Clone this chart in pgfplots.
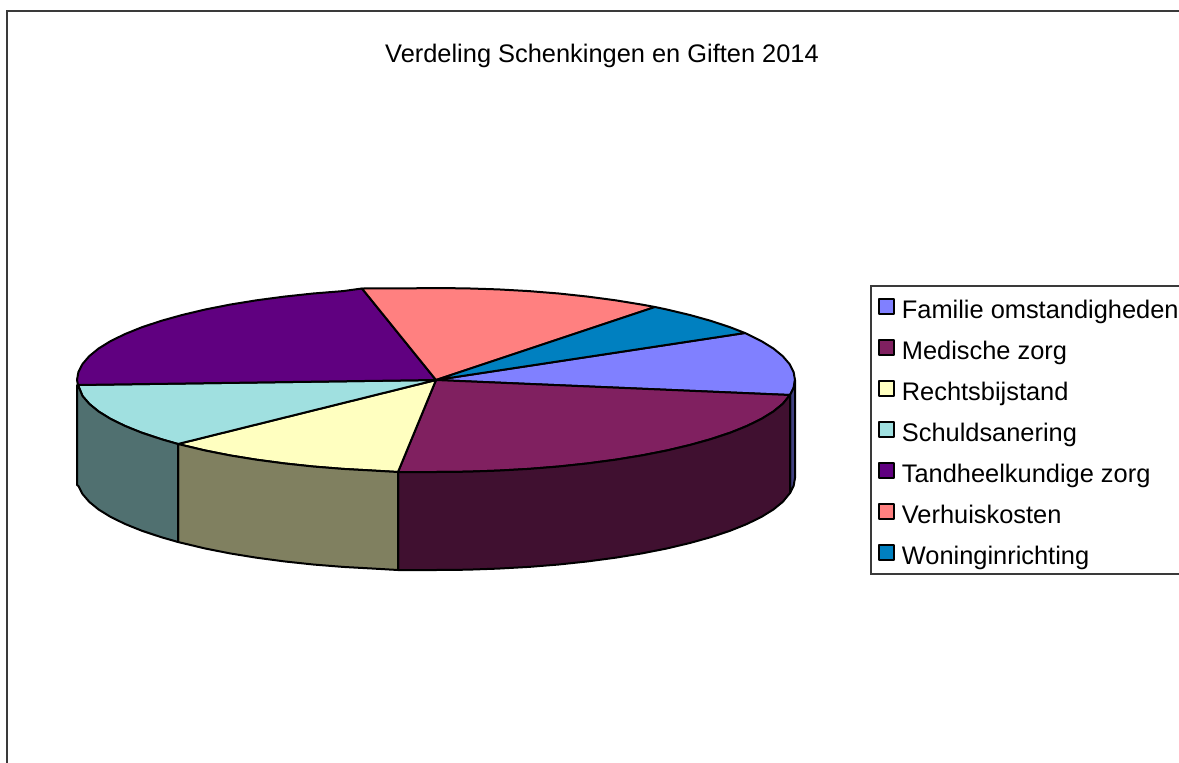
\documentclass[border=0pt]{standalone}
\usepackage{fontspec}
\setmainfont{Liberation Sans}
\usepackage{pgfplots}
\pgfplotsset{compat=1.18}
\definecolor{cFam}{HTML}{8080FF}
\definecolor{cMed}{HTML}{802060}
\definecolor{cRec}{HTML}{FFFFC0}
\definecolor{cSch}{HTML}{A0E0E0}
\definecolor{cTan}{HTML}{600080}
\definecolor{cVer}{HTML}{FF8080}
\definecolor{cWon}{HTML}{0080C0}
\definecolor{wFam}{HTML}{404080}
\definecolor{wMed}{HTML}{401030}
\definecolor{wRec}{HTML}{808060}
\definecolor{wSch}{HTML}{507070}
\definecolor{frame}{HTML}{3A3A3A}
\begin{document}
\begin{tikzpicture}
\path[use as bounding box] (0,0) rectangle (1179pt,763pt);
\begin{axis}[
  at={(0,0)}, anchor=south west,
  width=1179pt, height=763pt, scale only axis,
  xmin=0, xmax=1179, ymin=0, ymax=763, y dir=reverse,
  hide axis, clip=true,
  legend cell align=left,
  legend image code/.code={\draw[#1,line width=2pt] (0pt,-7.5pt) rectangle (15pt,7.5pt);\path (18pt,0pt);},
  legend style={
    at={(870/1179,1-285/763)}, anchor=north west,
    draw=frame, line width=1.8pt, fill=white,
    font=\fontsize{25.4}{30}\selectfont,
    inner xsep=7pt, inner ysep=5pt,
    row sep=9pt,
    nodes={text height=28pt, text depth=4pt, inner ysep=0pt, inner xsep=4pt},
  },
]
% chart area frame
\addplot[forget plot, frame, line width=2pt] coordinates {(7,763) (7,11) (1179,11)};

% top faces, in legend order
\addplot[fill=cFam, draw=black, line width=2pt, line join=round] coordinates {(436,380) (745,333) (761.4,341.1) (773.4,348.5) (782.8,356.2) (789.5,364) (793.6,372) (795,380) (793.6,388) (790,395)} -- cycle;
\addlegendentry{Familie omstandigheden}
\addplot[fill=cMed, draw=black, line width=2pt, line join=round] coordinates {(436,380) (790,395) (782.8,403.8) (773.4,411.5) (761.4,418.9) (746.9,426) (730,432.8) (711,439.1) (689.9,445) (666.8,450.5) (641.9,455.4) (615.5,459.7) (587.7,463.4) (558.8,466.5) (528.9,468.9) (498.3,470.6) (467.3,471.7) (436,472) (398,472)} -- cycle;
\addlegendentry{Medische zorg}
\addplot[fill=cRec, draw=black, line width=2pt, line join=round] coordinates {(436,380) (398,472) (373.7,470.6) (343,468.9) (313.2,466.5) (284.3,463.4) (256.5,459.7) (230,455.4) (205.2,450.5) (178,444)} -- cycle;
\addlegendentry{Rechtsbijstand}
\addplot[fill=cSch, draw=black, line width=2pt, line join=round] coordinates {(436,380) (178,444) (161,439.1) (142,432.8) (125.1,426) (110.6,418.9) (98.6,411.5) (89.2,403.8) (82.5,396) (78,385)} -- cycle;
\addlegendentry{Schuldsanering}
\addplot[fill=cTan, draw=black, line width=2pt, line join=round] coordinates {(436,380) (78,385) (77,380) (78.4,372) (82.5,364) (89.2,356.2) (98.6,348.5) (110.6,341.1) (125.1,334) (142,327.2) (161,320.9) (182.1,315) (205.2,309.5) (230,304.6) (256.5,300.3) (284.3,296.6) (313.2,293.5) (343,291.1) (362,288.5)} -- cycle;
\addlegendentry{Tandheelkundige zorg}
\addplot[fill=cVer, draw=black, line width=2pt, line join=round] coordinates {(436,380) (362,288.5) (404.7,288.4) (436,288) (467.3,288.4) (498.3,289.4) (528.9,291.1) (558.8,293.5) (587.7,296.6) (615.5,300.3) (641.9,304.6) (655,307)} -- cycle;
\addlegendentry{Verhuiskosten}
\addplot[fill=cWon, draw=black, line width=2pt, line join=round] coordinates {(436,380) (655,307) (666.8,309.5) (689.9,315) (711,320.9) (730,327.2) (745,333)} -- cycle;
\addlegendentry{Woninginrichting}

% side walls
\addplot[forget plot, fill=wFam, draw=black, line width=2pt, line join=round] coordinates {(795,380) (795,478) (793.6,486) (790,493) (790,395) (793.6,388)} -- cycle;
\addplot[forget plot, fill=wMed, draw=black, line width=2pt, line join=round] coordinates {(790,395) (782.8,403.8) (773.4,411.5) (761.4,418.9) (746.9,426) (730,432.8) (711,439.1) (689.9,445) (666.8,450.5) (641.9,455.4) (615.5,459.7) (587.7,463.4) (558.8,466.5) (528.9,468.9) (498.3,470.6) (467.3,471.7) (436,472) (398,472) (398,570) (436,570) (467.3,569.7) (498.3,568.6) (528.9,566.9) (558.8,564.5) (587.7,561.4) (615.5,557.7) (641.9,553.4) (666.8,548.5) (689.9,543) (711,537.1) (730,530.8) (746.9,524) (761.4,516.9) (773.4,509.5) (782.8,501.8) (790,493)} -- cycle;
\addplot[forget plot, fill=wRec, draw=black, line width=2pt, line join=round] coordinates {(398,472) (373.7,470.6) (343,468.9) (313.2,466.5) (284.3,463.4) (256.5,459.7) (230,455.4) (205.2,450.5) (178,444) (178,542) (205.2,548.5) (230,553.4) (256.5,557.7) (284.3,561.4) (313.2,564.5) (343,566.9) (373.7,568.6) (398,570)} -- cycle;
\addplot[forget plot, fill=wSch, draw=black, line width=2pt, line join=round] coordinates {(178,444) (161,439.1) (142,432.8) (125.1,426) (110.6,418.9) (98.6,411.5) (89.2,403.8) (82.5,396) (78,385) (77,385) (77,485) (78.4,486) (82.5,494) (89.2,501.8) (98.6,509.5) (110.6,516.9) (125.1,524) (142,530.8) (161,537.1) (178,542)} -- cycle;

\node[font=\fontsize{25.4}{30}\selectfont, anchor=center, inner sep=0pt] at (axis cs:602,56) {Verdeling Schenkingen en Giften 2014};
\end{axis}
\end{tikzpicture}
\end{document}
